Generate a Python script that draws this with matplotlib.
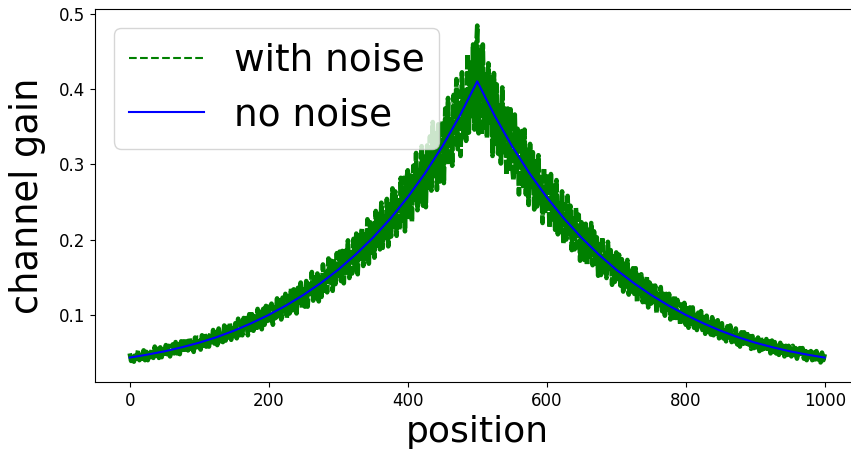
import numpy as np
import matplotlib
matplotlib.use("Agg")
import matplotlib.pyplot as plt

# ---- data ----
# noise-free channel gain, sampled every 25 positions
clean_positions = list(range(0, 1001, 25))
clean_gain = [0.0434, 0.0473, 0.0517, 0.0571, 0.0632, 0.0705, 0.0791, 0.0890,
              0.1001, 0.1126, 0.1266, 0.1424, 0.1601, 0.1801, 0.2026, 0.2278,
              0.2563, 0.2882, 0.3241, 0.3645, 0.4100, 0.3645, 0.3241, 0.2882,
              0.2563, 0.2278, 0.2026, 0.1801, 0.1601, 0.1424, 0.1266, 0.1126,
              0.1001, 0.0890, 0.0791, 0.0705, 0.0632, 0.0571, 0.0517, 0.0473,
              0.0434]

# noisy channel gain (in units of 1e-3), sampled every 2 positions
noisy_positions = list(range(0, 1001, 2))
noisy_gain_milli = [
    49, 39, 48, 38, 50, 42, 53, 40, 48, 42, 53, 40, 51, 40, 53, 44, 55, 43, 58, 46, 55, 43, 57, 44, 54,
    45, 60, 48, 59, 45, 58, 61, 49, 64, 49, 61, 48, 65, 54, 65, 50, 65, 53, 69, 55, 64, 51, 70, 57, 70,
    70, 54, 73, 59, 75, 58, 71, 58, 76, 64, 80, 62, 77, 60, 82, 65, 77, 64, 86, 66, 84, 70, 89, 67, 85,
    72, 89, 69, 95, 73, 90, 73, 96, 80, 96, 73, 101, 80, 101, 79, 98, 79, 108, 86, 104, 81, 108, 87, 112, 92,
    111, 93, 115, 87, 110, 96, 122, 95, 119, 94, 123, 106, 128, 96, 125, 102, 135, 106, 134, 128, 102, 136, 113, 143, 109,
    134, 111, 145, 111, 145, 124, 157, 119, 154, 126, 155, 118, 153, 124, 167, 132, 156, 130, 175, 143, 172, 132, 171, 141, 182,
    149, 184, 145, 185, 142, 185, 156, 199, 149, 187, 155, 201, 161, 208, 154, 205, 175, 215, 165, 207, 172, 227, 168, 223, 183,
    221, 176, 238, 192, 234, 187, 249, 189, 230, 199, 254, 191, 247, 204, 268, 217, 264, 205, 255, 213, 282, 225, 282, 211, 279,
    292, 230, 285, 224, 298, 253, 315, 239, 291, 251, 324, 245, 310, 243, 325, 269, 337, 265, 356, 285, 341, 266, 353, 277, 340,
    357, 275, 374, 304, 388, 299, 364, 298, 392, 328, 413, 320, 396, 311, 422, 336, 396, 331, 446, 342, 435, 364, 459, 346, 443,
    484,
    341, 451, 339, 459, 349, 419, 335, 434, 355, 415, 311, 421, 327, 406, 314, 378, 301, 402, 316, 374, 286, 374, 294, 373, 301,
    279, 366, 290, 347, 260, 328, 344, 271, 346, 260, 319, 246, 327, 270, 316, 240, 304, 244, 312, 245, 282, 222, 295, 238, 284,
    277, 216, 287, 227, 272, 213, 279, 207, 248, 210, 264, 195, 247, 200, 258, 205, 245, 186, 228, 187, 242, 190, 233, 172, 223,
    213, 173, 221, 166, 213, 178, 222, 166, 211, 168, 203, 152, 194, 153, 203, 157, 182, 149, 197, 158, 186, 140, 178, 144, 183,
    148, 180, 139, 174, 131, 168, 139, 173, 127, 157, 128, 162, 128, 162, 117, 153, 128, 154, 117, 144, 117, 151, 110, 143, 115,
    139, 114, 139, 103, 128, 109, 137, 105, 128, 99, 128, 107, 128, 94, 120, 96, 125, 96, 120, 112, 87, 114, 94, 116, 87,
    109, 83, 110, 88, 110, 83, 100, 80, 103, 85, 105, 80, 97, 75, 99, 78, 90, 74, 97, 73, 91, 75, 93, 69, 86,
    89, 69, 84, 65, 85, 70, 86, 64, 77, 65, 82, 61, 76, 58, 77, 62, 77, 59, 78, 61, 72, 55, 72, 56, 67,
    57, 70, 52, 71, 54, 65, 52, 68, 55, 65, 49, 66, 51, 64, 49, 59, 47, 63, 50, 59, 45, 59, 47, 59, 48,
    45, 59, 47, 56, 42, 53, 56, 44, 56, 42, 52, 40, 54, 44, 52, 40, 50, 41, 52, 41, 47, 37, 50, 40, 48,
]
noisy_gain = np.array(noisy_gain_milli) / 1000.0

series_labels = ["with noise", "no noise"]
x_label = "position"
y_label = "channel gain"

# ---- figure ----
plt.rcParams["path.simplify"] = False
fig = plt.figure(figsize=(8.51, 4.49), dpi=100)
ax = fig.add_axes([0.1116, 0.1492, 0.8984, 0.8307])

# heavier stroke so the dense noisy trace reads as a solid band
ax.plot(noisy_positions, noisy_gain, linestyle=(0, (3.0, 0.5)), color=(0, 0.5, 0),
        linewidth=3.3, label=series_labels[0])
ax.plot(clean_positions, clean_gain, linestyle="-", color=(0, 0, 1),
        linewidth=1.5, label=series_labels[1])

ax.set_xlim(-50, 1050)
ax.set_ylim(0.011, 0.506)
ax.set_xticks([0, 200, 400, 600, 800, 1000])
ax.set_yticks([0.1, 0.2, 0.3, 0.4, 0.5])
ax.tick_params(labelsize=12)

ax.set_xlabel(x_label, fontsize=26, labelpad=3.5)
ax.set_ylabel(y_label, fontsize=26.5, labelpad=9)
leg = ax.legend(loc="upper left", fontsize=27)
handles = leg.get_lines()
handles[0].set_linewidth(1.5)
handles[0].set_linestyle("--")
handles[1].set_linewidth(1.5)

fig.savefig("out.png", dpi=100)
